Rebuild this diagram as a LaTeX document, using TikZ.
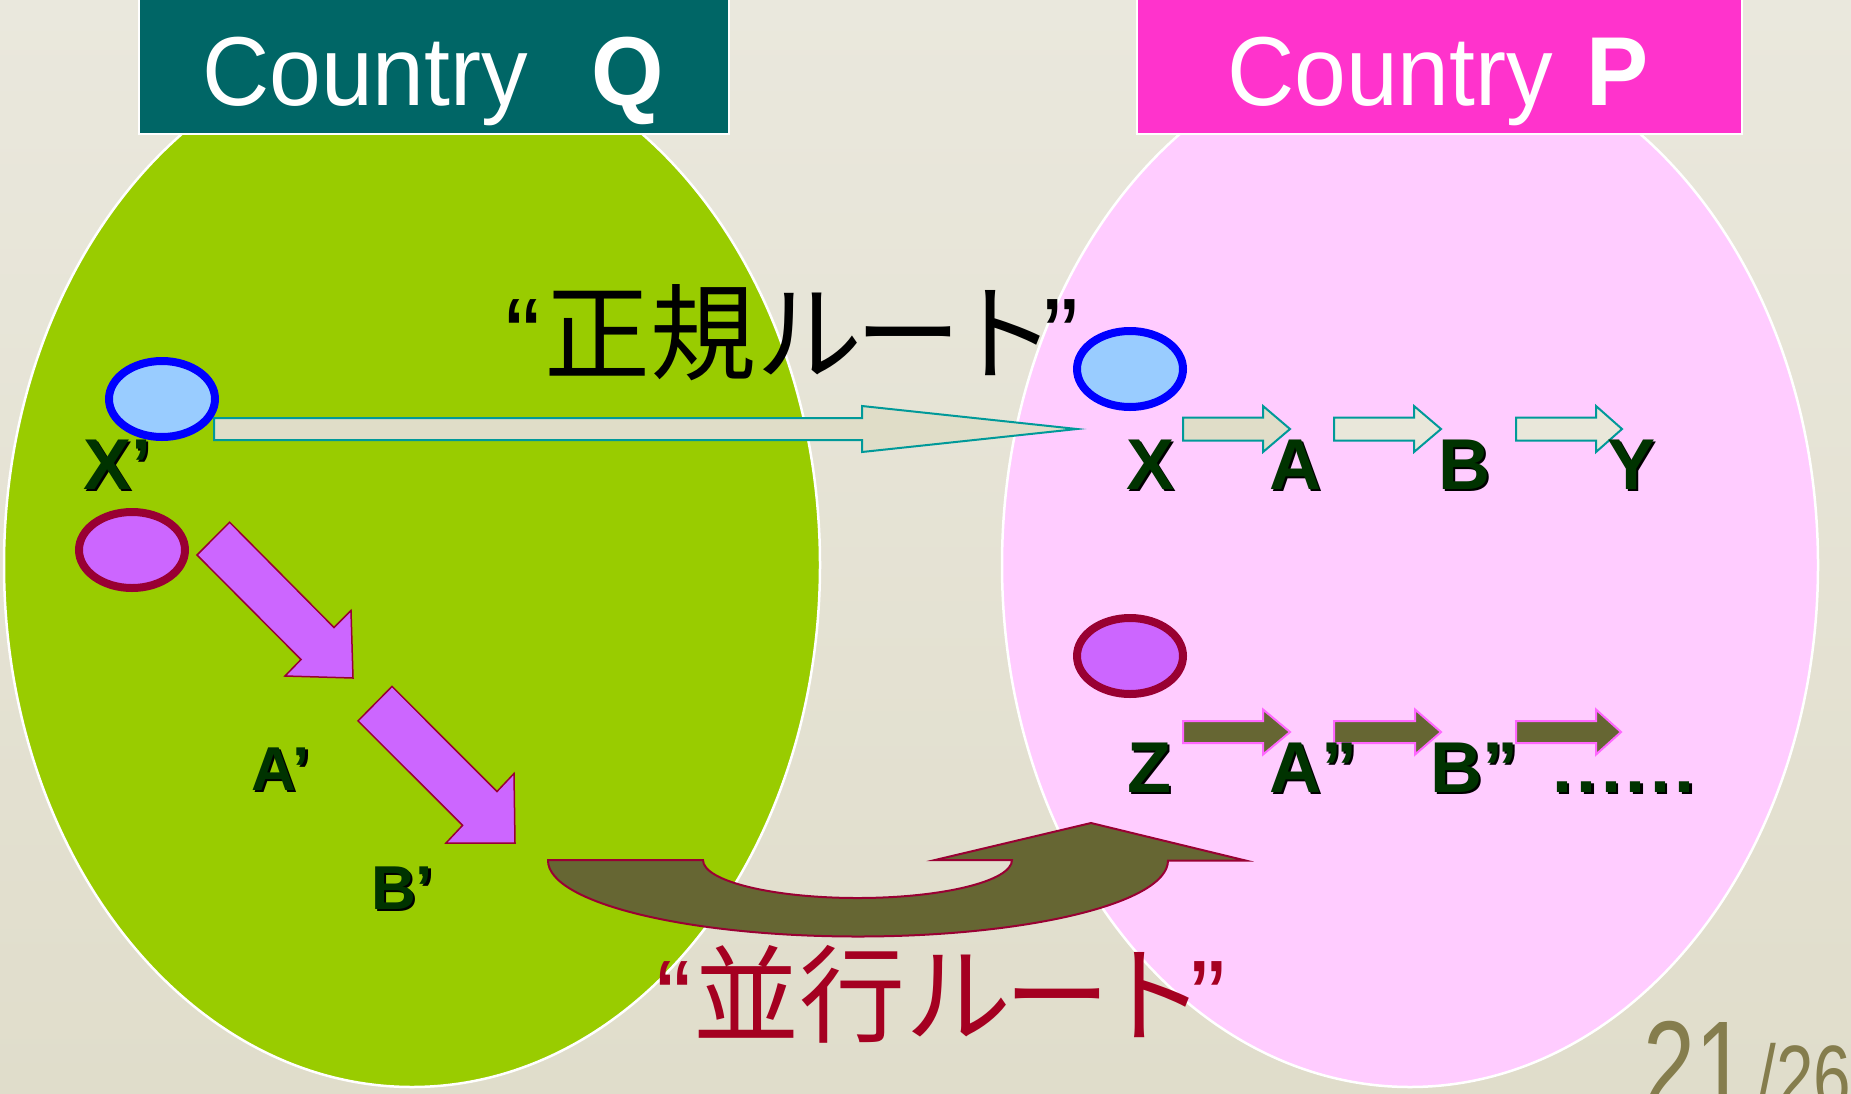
\documentclass[tikz,border=0pt]{standalone}
\usepackage{fontspec}
\usetikzlibrary{shapes.geometric}
\setmainfont{Liberation Sans}
\newfontfamily\cjkfont{Noto Sans CJK JP}
\newfontfamily\hdrfont[FakeStretch=0.95]{Liberation Sans}
\newfontfamily\pgnfont[FakeStretch=0.75]{Liberation Sans}
\newfontfamily\quotefont{Liberation Sans}
\definecolor{bgtop}{RGB}{234,232,221}
\definecolor{bgbot}{RGB}{224,221,203}
\definecolor{hdrQ}{RGB}{0,102,102}
\definecolor{hdrP}{RGB}{255,51,204}
\definecolor{qgreen}{RGB}{153,204,0}
\definecolor{ppink}{RGB}{255,204,255}
\definecolor{ovblue}{RGB}{153,204,255}
\definecolor{ovpurple}{RGB}{204,102,255}
\definecolor{darkred}{RGB}{153,0,51}
\definecolor{olivefill}{RGB}{102,102,51}
\definecolor{lblgreen}{RGB}{0,51,0}
\definecolor{arrfillA}{RGB}{224,221,200}
\definecolor{arrfillB}{RGB}{233,231,218}
\definecolor{arrteal}{RGB}{0,153,153}
\definecolor{arrpink}{RGB}{255,102,255}
\definecolor{routered}{RGB}{165,0,33}
\definecolor{pgcolor}{RGB}{133,125,77}
\newcommand\shd[1]{\makebox[0pt][l]{\hspace{2.5pt}\raisebox{-2.5pt}{\color{black}#1}}#1}
\newcommand\blockarrow[7]{\draw[#1] (#2,#5-#6) -- (#3,#5-#6) -- (#3,#5-#7) -- (#4,#5) -- (#3,#5+#7) -- (#3,#5+#6) -- (#2,#5+#6) -- cycle;}
\tikzset{
  region/.style={draw=white, line width=2.5pt},
  hdrbox/.style={draw=white, line width=2.5pt},
  hdrtext/.style={anchor=base west, inner sep=0pt, text=white, font=\hdrfont\fontsize{98}{100}\selectfont},
  blueoval/.style={ellipse, draw=blue, fill=ovblue, line width=8pt, minimum width=106pt, minimum height=76pt, inner sep=0pt},
  purpleoval/.style={ellipse, draw=darkred, fill=ovpurple, line width=8pt, minimum width=106pt, minimum height=76pt, inner sep=0pt},
  lbl/.style={anchor=base west, inner sep=0pt, text=lblgreen, font=\bfseries\fontsize{72}{80}\selectfont},
  lblsmall/.style={lbl, font=\bfseries\fontsize{62}{70}\selectfont},
  tealarrow/.style={draw=arrteal, line width=2pt, line join=miter},
  olivearrow/.style={draw=arrpink, fill=olivefill, line width=2pt},
  purplearrow/.style={draw=darkred, fill=ovpurple, line width=1.5pt},
  curvearrow/.style={draw=darkred, fill=olivefill, line width=2pt},
  routetext/.style={anchor=base west, inner sep=0pt, font=\fontsize{106}{110}\selectfont}
}
\begin{document}
\begin{tikzpicture}[x=1pt,y=-1pt]
\useasboundingbox (0,0) rectangle (1851,1093);
\clip (0,0) rectangle (1851,1093);
\shade[top color=bgtop, bottom color=bgbot] (0,0) rectangle (1851,1093);

% regions
\draw[region, fill=qgreen] (412,565) ellipse [x radius=408, y radius=522];
\draw[region, fill=ppink] (1410,565) ellipse [x radius=408, y radius=522];

% headers
\draw[hdrbox, fill=hdrQ] (139,-5) rectangle (729,134);
\draw[hdrbox, fill=hdrP] (1137,-5) rectangle (1742,134);
\node[hdrtext] (titleQ) at (202,105) {Country\ \ \kern12pt\textbf{Q}};
\node[hdrtext] (titleP) at (1227,105) {Country \kern7pt\textbf{P}};

% ovals
\node[blueoval] (ovXq) at (162,399) {};
\node[purpleoval] (ovZq) at (132,550) {};
\node[blueoval] (ovXp) at (1130,369) {};
\node[purpleoval] (ovZp) at (1130,656) {};

% main route arrow
\blockarrow{tealarrow, fill=arrfillA}{214}{862}{1077}{429}{11}{23}
% top row arrows
\blockarrow{tealarrow, fill=arrfillA}{1183}{1263}{1290}{429}{11.5}{23}
\blockarrow{tealarrow, fill=arrfillB}{1334}{1414}{1441}{429}{11.5}{23}
\blockarrow{tealarrow, fill=arrfillB}{1516}{1596}{1622}{429}{11.5}{23}
% bottom row arrows
\blockarrow{olivearrow}{1183}{1263}{1290}{732}{11}{22.5}
\blockarrow{olivearrow}{1334}{1415}{1441}{732}{11}{22.5}
\blockarrow{olivearrow}{1516}{1596}{1621}{732}{11}{22.5}

% diagonal purple arrows
\draw[purplearrow] (229.6,522.2) -- (334,627.5) -- (351,610.5) -- (353,678) -- (285,676) -- (301,659.5) -- (197,555) -- cycle;
\draw[purplearrow] (392,686.4) -- (497,791.5) -- (514,773.5) -- (515,843) -- (446,843) -- (462.6,825.3) -- (358,720.9) -- cycle;

% parallel route curved arrow
\draw[curvearrow] (548,860) -- (703,860)
  arc[start angle=180, end angle=0, x radius=154.5, y radius=38]
  -- (935,860) -- (1091,823) -- (1245.5,860.5) -- (1168,860.5)
  arc[start angle=0, end angle=180, x radius=310, y radius=76] -- cycle;

% labels
\node[lbl] (lXq) at (83,489) {\shd{X’}};
\node[lblsmall] (lAq) at (251,790) {\shd{A’}};
\node[lblsmall] (lBq) at (371,909) {\shd{B’}};
\node[lbl] (lX) at (1126,489) {\shd{X}};
\node[lbl] (lA) at (1269,489) {\shd{A}};
\node[lbl] (lB) at (1438,489) {\shd{B}};
\node[lbl] (lY) at (1607,489) {\shd{Y}};
\node[lbl] (lZ) at (1127,792) {\shd{Z}};
\node[lbl] (lA2) at (1269,792) {\shd{A”}};
\node[lbl] (lB2) at (1430,792) {\shd{B”}};
\node[lbl] (ldots) at (1552,792) {\shd{.\kern4.5pt.\kern4.5pt.\kern4.5pt.\kern4.5pt.\kern4.5pt.}};

% route texts
\node[routetext, text=black] (seiki) at (505,372) {{\quotefont “}\kern3.5pt{\cjkfont 正規ル\kern-7ptー\kern-11ptト}\kern-13pt{\quotefont ”}};
\node[routetext, text=routered] (heiko) at (656,1034) {{\quotefont “}\kern2pt{\cjkfont 並行ル\kern-7ptー\kern-11ptト}\kern-15pt{\quotefont ”}};

% page number
\node[anchor=base west, inner sep=0pt, text=pgcolor, font=\pgnfont\fontsize{125}{130}\selectfont] (pgnum) at (1643,1108) {21\kern10pt{\fontsize{90}{95}\selectfont/26}};
\end{tikzpicture}
\end{document}
